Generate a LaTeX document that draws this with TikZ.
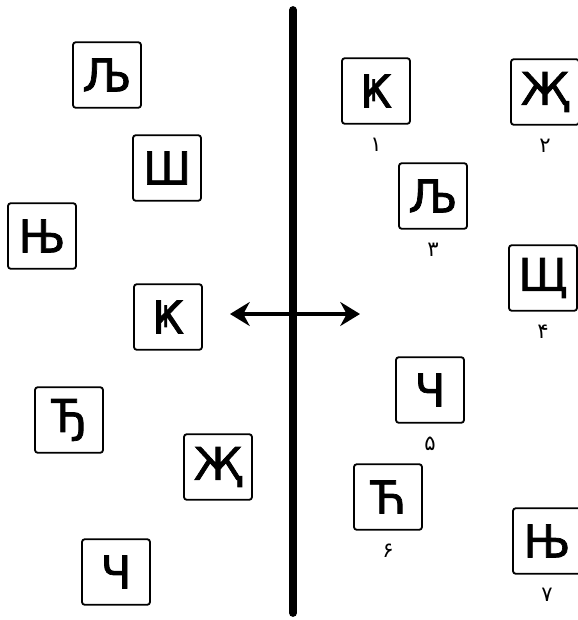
\documentclass[tikz,border=0pt]{standalone}
\usepackage{fontspec}
\setmainfont{DejaVu Sans}
\newfontfamily\arabicfont[Script=Arabic]{DejaVu Sans}
\newfontface\letterfont{DejaVu Sans}[FakeBold=1.6]
\usepackage{tikz}
\usetikzlibrary{arrows.meta, positioning}

\begin{document}
\begin{tikzpicture}[
    x=0.025cm, y=-0.025cm,
    node distance=0.28cm,
    letterbox/.style={rectangle, draw=black, line width=1.3pt, rounded corners=2pt,
                      minimum width=1.7cm, minimum height=1.64cm, inner sep=0pt,
                      align=center, font=\letterfont\fontsize{32}{32}\selectfont, fill=white},
    numlabel/.style={font=\arabicfont\fontsize{15}{15}\selectfont, inner sep=1pt},
    divider/.style={line width=5.5pt, draw=black, line cap=round},
    arrow/.style={{Stealth[length=14pt,width=17pt]}-{Stealth[length=14pt,width=17pt]},
                  line width=3.3pt, draw=black}
]

\useasboundingbox (0,0) rectangle (578,620);

%% --- DIVIDER ---
\coordinate (divtop) at (293,10);
\coordinate (divbot) at (293,613);
\draw[divider] (divtop) -- (divbot);

%% --- LEFT SIDE (unordered letters) ---
\node[letterbox] (lje)  at (107,75)  {Љ};
\node[letterbox] (sha)  at (167,168) {Ш};
\node[letterbox] (nje)  at (42,236)  {Њ};
\node[letterbox] (ka)   at (168,317) {Ҝ};
\node[letterbox] (dje)  at (69,420)  {Ђ};
\node[letterbox] (zhe)  at (218,467) {Җ};
\node[letterbox] (che)  at (116,572) {Ч};

%% --- RIGHT SIDE (numbered letters) ---
\node[letterbox] (kaR)  at (376,91)  {Ҝ};
\node[letterbox] (zheR) at (545,92)  {Җ};
\node[letterbox] (ljeR) at (433,196) {Љ};
\node[letterbox] (shchR) at (543,278) {Щ};
\node[letterbox] (cheR) at (430,390) {Ч};
\node[letterbox] (tsheR) at (388,497) {Ћ};
\node[letterbox] (njeR) at (547,541) {Њ};

%% --- NUMBERS ---
\node[numlabel, below=of kaR]   {۱};
\node[numlabel, below=of zheR]  {۲};
\node[numlabel, below=of ljeR]  {۳};
\node[numlabel, below=of shchR] {۴};
\node[numlabel, below=of cheR]  {۵};
\node[numlabel, below=of tsheR] {۶};
\node[numlabel, below=of njeR]  {۷};

%% --- ARROW ---
\coordinate (arrL) at (230,314);
\coordinate (arrR) at (360,314);
\draw[arrow] (arrL) -- (arrR);

\end{tikzpicture}
\end{document}
